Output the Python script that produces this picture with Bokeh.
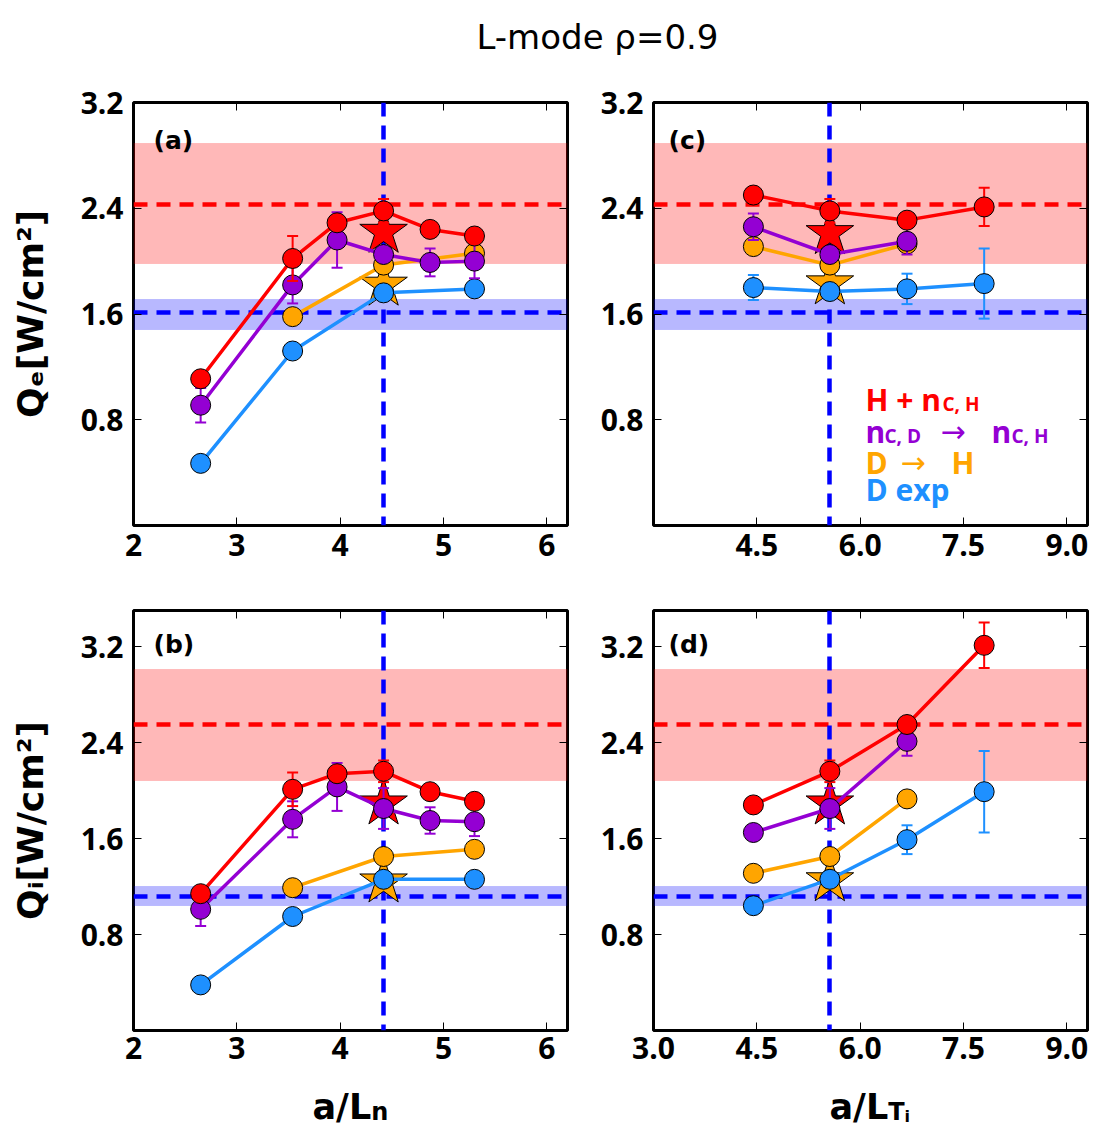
from bokeh.plotting import figure
from bokeh.models import (Range1d, FixedTicker, LinearAxis, Label,
                          NumeralTickFormatter, CustomJSTickFormatter)
from bokeh.layouts import column, row
from bokeh.embed import file_html
from bokeh.resources import INLINE

# ---------------- data ----------------
aLn = [2.65, 3.54, 3.97, 4.42, 4.87, 5.30]
aLn_DH = [3.54, 4.42, 5.30]
aLn_exp = [2.65, 3.54, 4.42, 5.30]
aLTi = [4.45, 5.56, 6.68, 7.80]
aLTi_3 = [4.45, 5.56, 6.68]

# panel (a): Qe vs a/Ln
Qe_n_H = [1.11, 2.02, 2.29, 2.38, 2.24, 2.19]
Qe_n_H_err = [0.0, 0.17, 0.0, 0.09, 0.0, 0.0]
Qe_n_nC = [0.91, 1.82, 2.16, 2.05, 1.99, 2.00]
Qe_n_nC_err = [0.13, 0.14, 0.21, 0.0, 0.105, 0.13]
Qe_n_DH = [1.58, 1.97, 2.06]
Qe_n_exp = [0.47, 1.32, 1.76, 1.79]
Qe_n_exp_err = [0.0, 0.04, 0.0, 0.0]
Qe_n_star = [2.22, 1.82]          # red star, orange star
# panel (b): Qi vs a/Ln
Qi_n_H = [1.14, 2.01, 2.14, 2.16, 1.99, 1.91]
Qi_n_H_err = [0.0, 0.14, 0.0, 0.09, 0.0, 0.0]
Qi_n_nC = [1.01, 1.76, 2.03, 1.85, 1.75, 1.74]
Qi_n_nC_err = [0.14, 0.15, 0.20, 0.17, 0.11, 0.12]
Qi_n_DH = [1.19, 1.45, 1.51]
Qi_n_exp = [0.38, 0.95, 1.26, 1.26]
Qi_n_exp_err = [0.0, 0.04, 0.0, 0.0]
Qi_n_star = [1.89, 1.24]
# panel (c): Qe vs a/LTi
Qe_t_H = [2.50, 2.38, 2.31, 2.41]
Qe_t_H_err = [0.0, 0.09, 0.0, 0.145]
Qe_t_nC = [2.26, 2.05, 2.15]
Qe_t_nC_err = [0.10, 0.0, 0.10]
Qe_t_DH = [2.11, 1.97, 2.13]
Qe_t_exp = [1.80, 1.77, 1.79, 1.83]
Qe_t_exp_err = [0.095, 0.0, 0.115, 0.265]
Qe_t_star = [2.21, 1.83]
# panel (d): Qi vs a/LTi
Qi_t_H = [1.88, 2.16, 2.55, 3.21]
Qi_t_H_err = [0.0, 0.09, 0.0, 0.19]
Qi_t_nC = [1.65, 1.85, 2.41]
Qi_t_nC_err = [0.0, 0.17, 0.12]
Qi_t_DH = [1.31, 1.45, 1.93]
Qi_t_exp = [1.04, 1.26, 1.59, 1.99]
Qi_t_exp_err = [0.04, 0.0, 0.12, 0.34]
Qi_t_star = [1.89, 1.25]

# experimental references: (mean, band low, band high)
Qe_H_ref = [2.43, 1.98, 2.89]
Qe_D_ref = [1.61, 1.48, 1.71]
Qi_H_ref = [2.55, 2.08, 3.01]
Qi_D_ref = [1.12, 1.04, 1.20]
aLn_nominal = 4.42
aLTi_nominal = 5.56

YTICKS = [0.8, 1.6, 2.4, 3.2]
XTICKS_N = [2, 3, 4, 5, 6]
XTICKS_T_TOP = [4.5, 6.0, 7.5, 9.0]
XTICKS_T_BOT = [3.0, 4.5, 6.0, 7.5, 9.0]

RED, PURPLE, ORANGE, BLUE = "#ff0000", "#9400d3", "#ffa500", "#1e90ff"
DBLUE = "#0000ff"

# ---------------- geometry (absolute page pixels) ----------------
GEOM = {
    "a": dict(left=133, top=102, w=434, h=423, xr=(2.0, 6.2), yr=(0.0, 3.2)),
    "c": dict(left=653, top=102, w=434, h=423, xr=(3.0, 9.3), yr=(0.0, 3.2)),
    "b": dict(left=133, top=610, w=434, h=420, xr=(2.0, 6.2), yr=(0.0, 3.5)),
    "d": dict(left=653, top=610, w=434, h=420, xr=(3.0, 9.3), yr=(0.0, 3.5)),
}


def to_data(g, px, py):
    x0, x1 = g["xr"]
    y0, y1 = g["yr"]
    return (x0 + (px - g["left"]) / g["w"] * (x1 - x0),
            y1 - (py - g["top"]) / g["h"] * (y1 - y0))


def label(p, g, px, py, text, size, color="black", font="DejaVu Sans",
          style="bold", align="left"):
    x, y = to_data(g, px, py)
    p.add_layout(Label(x=x, y=y, text=text, text_font=font,
                       text_font_size=f"{size}px", text_font_style=style,
                       text_color=color, text_align=align,
                       text_baseline="alphabetic"))


DV = {'a': 0.675, 'L': 0.635, '/': 0.365, 'T': 0.682}


def adv(s, size):
    return sum(DV[ch] for ch in s) * size


def text_fig(left, top, width, height):
    """A blank figure whose data coordinates follow page pixels."""
    p = figure(width=width, height=height,
               x_range=Range1d(left, left + width),
               y_range=Range1d(-(top + height), -top),
               toolbar_location=None, output_backend="svg", min_border=0,
               x_axis_location=None, y_axis_location=None)
    p.xgrid.visible = False
    p.ygrid.visible = False
    p.outline_line_color = None
    p.background_fill_color = "white"
    p.border_fill_color = "white"
    g = dict(left=left, top=top, w=width, h=height,
             xr=(left, left + width), yr=(-(top + height), -top))
    return p, g


def make_panel(key, width, height, bl, br, bt, bb, xticks, xfmt, ylab=None,
               xstandoff=8):
    g = GEOM[key]
    p = figure(width=width, height=height,
               x_range=Range1d(*g["xr"]), y_range=Range1d(*g["yr"]),
               toolbar_location=None, output_backend="svg",
               min_border_left=bl, min_border_right=br,
               min_border_top=bt, min_border_bottom=bb)
    p.xgrid.visible = False
    p.ygrid.visible = False
    p.outline_line_color = "black"
    p.outline_line_width = 3
    p.background_fill_color = "white"
    p.border_fill_color = "white"
    p.add_layout(LinearAxis(), "above")
    p.add_layout(LinearAxis(), "right")
    for ax in p.xaxis:
        ax.ticker = FixedTicker(ticks=xticks)
        ax.formatter = NumeralTickFormatter(format=xfmt)
    for ax in p.yaxis:
        ax.ticker = FixedTicker(ticks=YTICKS)
        ax.formatter = NumeralTickFormatter(format="0.0")
    for ax in p.axis:
        ax.axis_line_color = None
        ax.major_tick_in = 8
        ax.major_tick_out = 0
        ax.major_tick_line_width = 1
        ax.minor_tick_line_color = None
        ax.major_label_text_font = "Open Sans"
        ax.major_label_text_font_style = "bold"
        ax.major_label_text_font_size = "30px"
        ax.major_label_text_color = "black"
        ax.major_label_standoff = 10
    p.below[0].major_label_standoff = xstandoff
    for ax in list(p.above) + list(p.right):
        ax.formatter = CustomJSTickFormatter(code="return ''")
        ax.major_label_standoff = 0
    if ylab:
        ya = p.left[0]
        ya.axis_label = ylab
        ya.axis_label_text_font = "DejaVu Sans"
        ya.axis_label_text_font_style = "bold"
        ya.axis_label_text_font_size = "36px"
        ya.axis_label_text_color = "black"
        ya.axis_label_standoff = 27
    return p, g


def refs(p, H_ref, D_ref, xnom):
    p.hstrip(y0=[H_ref[1]], y1=[H_ref[2]], fill_color=RED, fill_alpha=0.28,
             line_color=RED, line_alpha=0.15)
    p.hstrip(y0=[D_ref[1]], y1=[D_ref[2]], fill_color=DBLUE, fill_alpha=0.28,
             line_color=DBLUE, line_alpha=0.15)
    p.hspan(y=[H_ref[0]], line_color=RED, line_width=4.5, line_dash="14 9")
    p.hspan(y=[D_ref[0]], line_color=DBLUE, line_width=4.5, line_dash="14 9")
    p.vspan(x=[xnom], line_color=DBLUE, line_width=4.5, line_dash="14 9")


def stars(p, xnom, ys):
    p.scatter([xnom], [ys[1]], marker="star", size=50, fill_color=ORANGE,
              line_color="black", line_width=1)
    p.scatter([xnom], [ys[0]], marker="star", size=50, fill_color=RED,
              line_color="black", line_width=1)


def series(p, x, y, err, color):
    p.line(x, y, line_color=color, line_width=3.5)
    if err is not None:
        xe = [xi for xi, ei in zip(x, err) if ei > 0]
        lo = [yi - ei for yi, ei in zip(y, err) if ei > 0]
        hi = [yi + ei for yi, ei in zip(y, err) if ei > 0]
        if xe:
            p.segment(x0=xe, y0=lo, x1=xe, y1=hi, line_color=color, line_width=2)
            p.scatter(xe + xe, lo + hi, marker="dash", size=11, line_color=color,
                      line_width=2)
    p.scatter(x, y, size=20, fill_color=color, line_color="black", line_width=1)


# ---------------- title ----------------
pt, gt = text_fig(0, 0, 1097, 55)
label(pt, gt, 597, 36, "L-mode ρ=0.9", 34, style="normal", align="center")

# ---------------- panel (a) ----------------
pa, ga = make_panel("a", 573, 520, 133, 6, 47, 50, XTICKS_N, "0", "Qₑ[W/cm²]")
refs(pa, Qe_H_ref, Qe_D_ref, aLn_nominal)
stars(pa, aLn_nominal, Qe_n_star)
series(pa, aLn_exp, Qe_n_exp, Qe_n_exp_err, BLUE)
series(pa, aLn_DH, Qe_n_DH, None, ORANGE)
series(pa, aLn, Qe_n_nC, Qe_n_nC_err, PURPLE)
series(pa, aLn, Qe_n_H, Qe_n_H_err, RED)
label(pa, ga, 153, 140, "(a)", 25)

# ---------------- panel (c) ----------------
pc, gc = make_panel("c", 524, 520, 80, 10, 47, 50, XTICKS_T_TOP, "0.0")
refs(pc, Qe_H_ref, Qe_D_ref, aLTi_nominal)
stars(pc, aLTi_nominal, Qe_t_star)
series(pc, aLTi, Qe_t_exp, Qe_t_exp_err, BLUE)
series(pc, aLTi_3, Qe_t_DH, None, ORANGE)
series(pc, aLTi_3, Qe_t_nC, Qe_t_nC_err, PURPLE)
series(pc, aLTi, Qe_t_H, Qe_t_H_err, RED)
label(pc, gc, 668, 140, "(c)", 25)
# legend text
OS = "Open Sans"
label(pc, gc, 865, 399, "H + n", 30, RED, OS)
label(pc, gc, 942, 403, "C, H", 19, RED, OS)
label(pc, gc, 865, 431, "n", 30, PURPLE, OS)
label(pc, gc, 884, 435, "C, D", 19, PURPLE, OS)
label(pc, gc, 940, 431, "→", 30, PURPLE, "DejaVu Sans", "normal")
label(pc, gc, 991, 431, "n", 30, PURPLE, OS)
label(pc, gc, 1011, 435, "C, H", 19, PURPLE, OS)
label(pc, gc, 865, 462, "D", 30, ORANGE, OS)
label(pc, gc, 900, 462, "→", 30, ORANGE, "DejaVu Sans", "normal")
label(pc, gc, 951, 462, "H", 30, ORANGE, OS)
label(pc, gc, 865, 489, "D exp", 30, BLUE, OS)

# ---------------- panel (b) ----------------
pb, gb = make_panel("b", 573, 493, 133, 6, 35, 38, XTICKS_N, "0", "Qᵢ[W/cm²]",
                    xstandoff=6)
refs(pb, Qi_H_ref, Qi_D_ref, aLn_nominal)
stars(pb, aLn_nominal, Qi_n_star)
series(pb, aLn_exp, Qi_n_exp, Qi_n_exp_err, BLUE)
series(pb, aLn_DH, Qi_n_DH, None, ORANGE)
series(pb, aLn, Qi_n_nC, Qi_n_nC_err, PURPLE)
series(pb, aLn, Qi_n_H, Qi_n_H_err, RED)
label(pb, gb, 153, 644, "(b)", 25)

# ---------------- panel (d) ----------------
pd, gd = make_panel("d", 524, 493, 80, 10, 35, 38, XTICKS_T_BOT, "0.0",
                    xstandoff=6)
refs(pd, Qi_H_ref, Qi_D_ref, aLTi_nominal)
stars(pd, aLTi_nominal, Qi_t_star)
series(pd, aLTi, Qi_t_exp, Qi_t_exp_err, BLUE)
series(pd, aLTi_3, Qi_t_DH, None, ORANGE)
series(pd, aLTi_3, Qi_t_nC, Qi_t_nC_err, PURPLE)
series(pd, aLTi, Qi_t_H, Qi_t_H_err, RED)
label(pd, gd, 668, 644, "(d)", 25)

# ---------------- x-axis titles ----------------
px_, gx = text_fig(0, 1068, 1097, 57)
XL = 35
xs = 312
label(px_, gx, xs, 1106, "a/L", XL)
label(px_, gx, xs + adv("a/L", XL), 1111, "n", 24)
xs = 829
label(px_, gx, xs, 1106, "a/L", XL)
xs2 = xs + adv("a/L", XL)
label(px_, gx, xs2, 1111, "T", 24)
label(px_, gx, xs2 + adv("T", 24), 1116, "i", 16)

layout = column(pt, row(pa, pc), row(pb, pd), px_)
open("out.html", "w").write(file_html(layout, INLINE))
